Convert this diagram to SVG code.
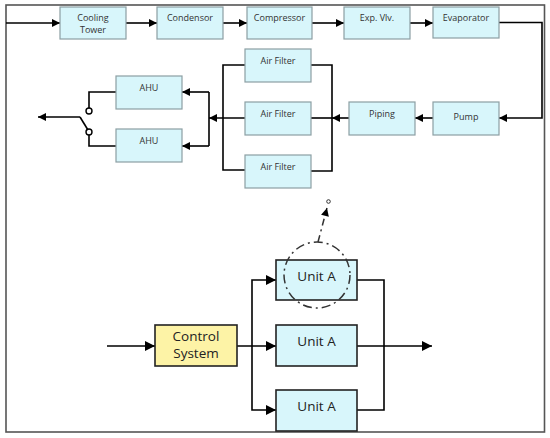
<svg xmlns="http://www.w3.org/2000/svg" width="550" height="438" viewBox="0 0 550 438">
<defs>
<marker id="ah" viewBox="0 0 10 10" refX="10" refY="5" markerWidth="9" markerHeight="8" markerUnits="userSpaceOnUse" orient="auto"><path d="M0,0 L10,5 L0,10 Z" fill="#000"/></marker>
<marker id="ahL" viewBox="0 0 10 10" refX="10" refY="5" markerWidth="11" markerHeight="10" markerUnits="userSpaceOnUse" orient="auto"><path d="M0,0 L10,5 L0,10 Z" fill="#000"/></marker>
</defs>
<style>
.b{fill:#d8f6fb;stroke:#8c9fa3;stroke-width:1.2}
.u{fill:#d8f6fb;stroke:#222;stroke-width:1.6}
.cs{fill:#fdf3a6;stroke:#222;stroke-width:1.6}
.t{font-family:"Open Sans","Liberation Sans",sans-serif;font-size:9px;fill:#333;text-anchor:middle}
.tl{font-family:"Open Sans","Liberation Sans",sans-serif;font-size:13.5px;fill:#222;text-anchor:middle}
.c{fill:none;stroke:#000;stroke-width:1.6}
.a{marker-end:url(#ah)}
.al{marker-end:url(#ahL)}
</style>
<rect x="6" y="5" width="538.5" height="427" fill="#fff" stroke="#555" stroke-width="1.6"/>
<g id="connectors">
<path class="c a" d="M6,23 H60"/>
<path class="c a" d="M126,23 H157"/>
<path class="c a" d="M223,23 H247"/>
<path class="c a" d="M312,23 H344"/>
<path class="c a" d="M410,23 H433"/>
<path class="c a" d="M499,22.5 H542 V118 H499"/>
<path class="c a" d="M433,118 H415"/>
<path class="c a" d="M349,118 H332"/>
<path class="c" d="M311,65 H332 V171 H311"/>
<path class="c" d="M311,118 H332"/>
<path class="c" d="M245,65 H223 V170 H245"/>
<path class="c a" d="M245,118 H209"/>
<path class="c" d="M209,92 V146"/>
<path class="c a" d="M209,92 H182"/>
<path class="c a" d="M209,146 H182"/>
<path class="c" d="M116,92 H89 V108"/>
<path class="c" d="M116,146 H89 V135"/>
<circle cx="89" cy="111" r="3" fill="#fff" stroke="#000" stroke-width="1.4"/>
<circle cx="89" cy="132" r="3" fill="#fff" stroke="#000" stroke-width="1.4"/>
<path class="c" d="M88,130 L80,117"/>
<path class="c a" d="M80,117 H38"/>
<path class="c al" d="M107,346 H155"/>
<path class="c al" d="M237,346 H276"/>
<path class="c al" d="M252,346 V280 H276"/>
<path class="c al" d="M252,346 V410 H276"/>
<path class="c" d="M357,280 H384 V410 H357"/>
<path class="c al" d="M357,346 H432"/>
</g>
<g id="cooling-tower"><rect class="b" x="60" y="7" width="66" height="32"/><text class="t" x="93" y="21">Cooling</text><text class="t" x="93" y="33">Tower</text></g>
<g id="condensor"><rect class="b" x="157" y="7" width="66" height="32"/><text class="t" x="190" y="21">Condensor</text></g>
<g id="compressor"><rect class="b" x="247" y="7" width="65" height="32"/><text class="t" x="279.5" y="21">Compressor</text></g>
<g id="exp-vlv"><rect class="b" x="344" y="7" width="66" height="32"/><text class="t" x="377" y="21">Exp. Vlv.</text></g>
<g id="evaporator"><rect class="b" x="433" y="7" width="66" height="31"/><text class="t" x="466" y="21">Evaporator</text></g>
<g id="pump"><rect class="b" x="433" y="102" width="66" height="33"/><text class="t" x="466" y="120">Pump</text></g>
<g id="piping"><rect class="b" x="349" y="102" width="66" height="33"/><text class="t" x="382" y="117">Piping</text></g>
<g id="air-filter-1"><rect class="b" x="245" y="49" width="66" height="33"/><text class="t" x="278" y="64">Air Filter</text></g>
<g id="air-filter-2"><rect class="b" x="245" y="102" width="66" height="33"/><text class="t" x="278" y="117">Air Filter</text></g>
<g id="air-filter-3"><rect class="b" x="245" y="155" width="66" height="33"/><text class="t" x="278" y="170">Air Filter</text></g>
<g id="ahu-1"><rect class="b" x="116" y="76" width="66" height="33"/><text class="t" x="149" y="91">AHU</text></g>
<g id="ahu-2"><rect class="b" x="116" y="129" width="66" height="33"/><text class="t" x="149" y="144">AHU</text></g>
<g id="control-system"><rect class="cs" x="155" y="325" width="82" height="41"/><text class="tl" x="196" y="341">Control</text><text class="tl" x="196" y="358">System</text></g>
<g id="unit-a-1"><rect class="u" x="276" y="260" width="81" height="40"/><text class="tl" x="316.5" y="281">Unit A</text></g>
<g id="unit-a-2"><rect class="u" x="276" y="325" width="81" height="41"/><text class="tl" x="316.5" y="346">Unit A</text></g>
<g id="unit-a-3"><rect class="u" x="276" y="390" width="81" height="41"/><text class="tl" x="316.5" y="411">Unit A</text></g>
<g id="highlight">
<circle cx="317" cy="275" r="33" fill="none" stroke="#333" stroke-width="1.5" stroke-dasharray="9,4,2,4"/>
<path d="M318,242 L327,208" fill="none" stroke="#333" stroke-width="1.5" stroke-dasharray="7,4,2,4" marker-end="url(#ah)"/>
<circle cx="328.5" cy="201.5" r="1.8" fill="#fff" stroke="#333" stroke-width="1"/>
</g>
</svg>
